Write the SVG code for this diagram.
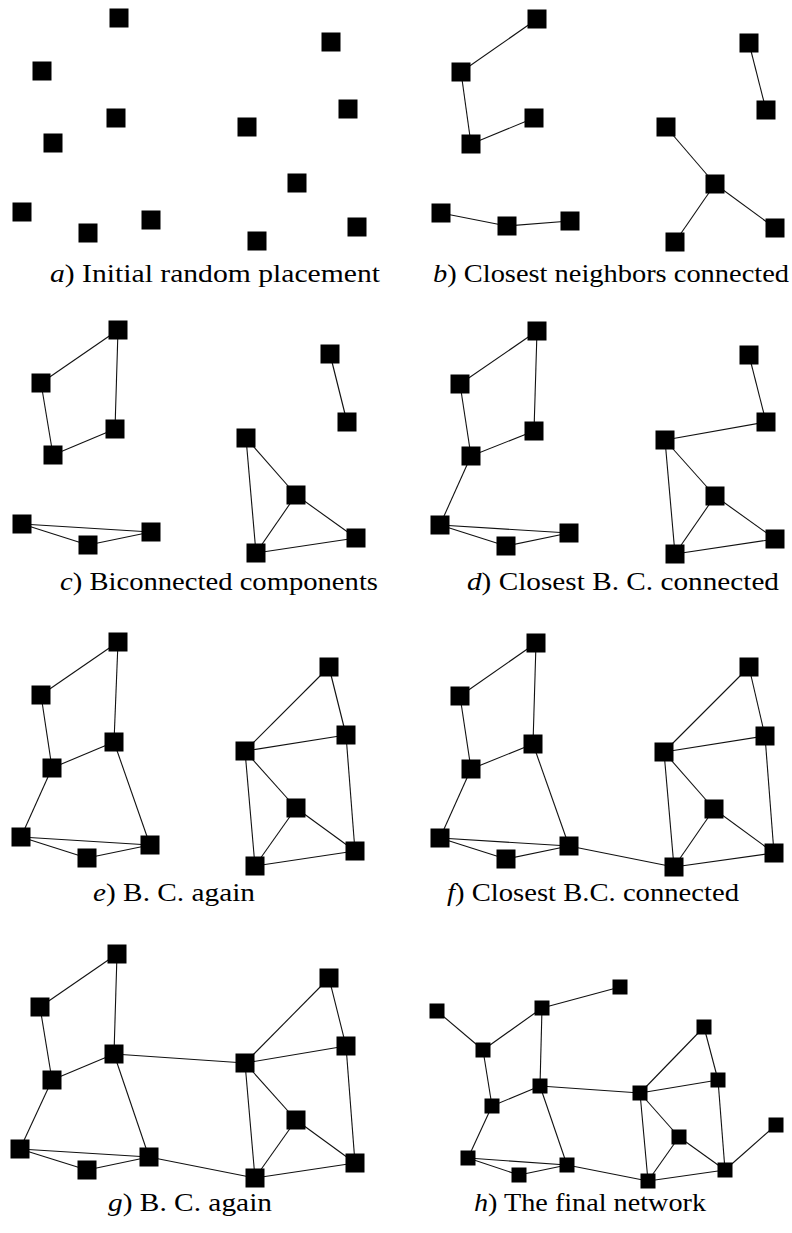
<svg xmlns="http://www.w3.org/2000/svg" width="792" height="1233" viewBox="0 0 792 1233">
  <style>
    .edge line { stroke: #111; stroke-width: 1.1; }
    .cap text { font-family: "Liberation Serif", "Times New Roman", serif; font-size: 26px; fill: #000; }
    .lbl { font-style: italic; }
  </style>
  <defs>
    <rect id="sq" x="-9.5" y="-9.5" width="19" height="19" fill="#000"/>
    <rect id="sqs" x="-7.5" y="-7.5" width="15" height="15" fill="#000"/>
  </defs>
  <rect width="792" height="1233" fill="#fff"/>

  <!-- connectors -->
  <g id="connectors" class="edge">
    <!-- b) -->
    <line x1="537" y1="19" x2="461" y2="72"/>
    <line x1="461" y1="72" x2="471" y2="144"/>
    <line x1="471" y1="144" x2="534" y2="118"/>
    <line x1="749" y1="43" x2="766" y2="110"/>
    <line x1="666" y1="127" x2="715" y2="184"/>
    <line x1="715" y1="184" x2="675" y2="242"/>
    <line x1="715" y1="184" x2="775" y2="228"/>
    <line x1="441" y1="213" x2="507" y2="226"/>
    <line x1="507" y1="226" x2="570" y2="221"/>
    <!-- c) -->
    <line x1="118" y1="330" x2="41" y2="383"/>
    <line x1="118" y1="330" x2="115" y2="429"/>
    <line x1="41" y1="383" x2="53" y2="455"/>
    <line x1="53" y1="455" x2="115" y2="429"/>
    <line x1="330" y1="354" x2="347" y2="422"/>
    <line x1="246" y1="438" x2="296" y2="495"/>
    <line x1="246" y1="438" x2="256" y2="553"/>
    <line x1="296" y1="495" x2="256" y2="553"/>
    <line x1="296" y1="495" x2="356" y2="538"/>
    <line x1="256" y1="553" x2="356" y2="538"/>
    <line x1="22" y1="524" x2="151" y2="532"/>
    <line x1="22" y1="524" x2="88" y2="545"/>
    <line x1="88" y1="545" x2="151" y2="532"/>
    <!-- d) -->
    <line x1="537" y1="331" x2="460" y2="384"/>
    <line x1="537" y1="331" x2="534" y2="431"/>
    <line x1="460" y1="384" x2="471" y2="456"/>
    <line x1="471" y1="456" x2="534" y2="431"/>
    <line x1="471" y1="456" x2="440" y2="525"/>
    <line x1="749" y1="355" x2="766" y2="422"/>
    <line x1="766" y1="422" x2="665" y2="440"/>
    <line x1="665" y1="440" x2="715" y2="496"/>
    <line x1="665" y1="440" x2="675" y2="554"/>
    <line x1="715" y1="496" x2="675" y2="554"/>
    <line x1="715" y1="496" x2="775" y2="539"/>
    <line x1="675" y1="554" x2="775" y2="539"/>
    <line x1="440" y1="525" x2="569" y2="533"/>
    <line x1="440" y1="525" x2="506" y2="546"/>
    <line x1="506" y1="546" x2="569" y2="533"/>
    <!-- e) -->
    <line x1="118" y1="642" x2="41" y2="695"/>
    <line x1="118" y1="642" x2="114" y2="742"/>
    <line x1="41" y1="695" x2="52" y2="768"/>
    <line x1="52" y1="768" x2="114" y2="742"/>
    <line x1="52" y1="768" x2="21" y2="837"/>
    <line x1="114" y1="742" x2="150" y2="845"/>
    <line x1="21" y1="837" x2="150" y2="845"/>
    <line x1="21" y1="837" x2="87" y2="858"/>
    <line x1="87" y1="858" x2="150" y2="845"/>
    <line x1="329" y1="667" x2="245" y2="751"/>
    <line x1="329" y1="667" x2="346" y2="735"/>
    <line x1="245" y1="751" x2="346" y2="735"/>
    <line x1="245" y1="751" x2="296" y2="808"/>
    <line x1="245" y1="751" x2="255" y2="866"/>
    <line x1="296" y1="808" x2="255" y2="866"/>
    <line x1="296" y1="808" x2="355" y2="851"/>
    <line x1="346" y1="735" x2="355" y2="851"/>
    <line x1="255" y1="866" x2="355" y2="851"/>
    <!-- f) -->
    <line x1="536" y1="643" x2="460" y2="696"/>
    <line x1="536" y1="643" x2="533" y2="744"/>
    <line x1="460" y1="696" x2="471" y2="769"/>
    <line x1="471" y1="769" x2="533" y2="744"/>
    <line x1="471" y1="769" x2="440" y2="838"/>
    <line x1="533" y1="744" x2="569" y2="846"/>
    <line x1="440" y1="838" x2="569" y2="846"/>
    <line x1="440" y1="838" x2="506" y2="859"/>
    <line x1="506" y1="859" x2="569" y2="846"/>
    <line x1="569" y1="846" x2="674" y2="867"/>
    <line x1="749" y1="667" x2="664" y2="752"/>
    <line x1="749" y1="667" x2="765" y2="736"/>
    <line x1="664" y1="752" x2="765" y2="736"/>
    <line x1="664" y1="752" x2="714" y2="809"/>
    <line x1="664" y1="752" x2="674" y2="867"/>
    <line x1="714" y1="809" x2="674" y2="867"/>
    <line x1="714" y1="809" x2="774" y2="853"/>
    <line x1="765" y1="736" x2="774" y2="853"/>
    <line x1="674" y1="867" x2="774" y2="853"/>
    <!-- g) -->
    <line x1="117" y1="954" x2="40" y2="1007"/>
    <line x1="117" y1="954" x2="114" y2="1054"/>
    <line x1="40" y1="1007" x2="52" y2="1080"/>
    <line x1="52" y1="1080" x2="114" y2="1054"/>
    <line x1="52" y1="1080" x2="20" y2="1149"/>
    <line x1="114" y1="1054" x2="149" y2="1157"/>
    <line x1="114" y1="1054" x2="245" y2="1063"/>
    <line x1="20" y1="1149" x2="149" y2="1157"/>
    <line x1="20" y1="1149" x2="87" y2="1170"/>
    <line x1="87" y1="1170" x2="149" y2="1157"/>
    <line x1="149" y1="1157" x2="255" y2="1178"/>
    <line x1="329" y1="978" x2="245" y2="1063"/>
    <line x1="329" y1="978" x2="346" y2="1046"/>
    <line x1="245" y1="1063" x2="346" y2="1046"/>
    <line x1="245" y1="1063" x2="296" y2="1120"/>
    <line x1="245" y1="1063" x2="255" y2="1178"/>
    <line x1="296" y1="1120" x2="255" y2="1178"/>
    <line x1="296" y1="1120" x2="355" y2="1163"/>
    <line x1="346" y1="1046" x2="355" y2="1163"/>
    <line x1="255" y1="1178" x2="355" y2="1163"/>
    <!-- h) -->
    <line x1="437" y1="1011" x2="483" y2="1050"/>
    <line x1="483" y1="1050" x2="542" y2="1008"/>
    <line x1="542" y1="1008" x2="620" y2="987"/>
    <line x1="542" y1="1008" x2="540" y2="1086"/>
    <line x1="483" y1="1050" x2="492" y2="1106"/>
    <line x1="492" y1="1106" x2="540" y2="1086"/>
    <line x1="492" y1="1106" x2="468" y2="1158"/>
    <line x1="540" y1="1086" x2="567" y2="1165"/>
    <line x1="468" y1="1158" x2="567" y2="1165"/>
    <line x1="468" y1="1158" x2="519" y2="1175"/>
    <line x1="519" y1="1175" x2="567" y2="1165"/>
    <line x1="567" y1="1165" x2="648" y2="1181"/>
    <line x1="540" y1="1086" x2="640" y2="1093"/>
    <line x1="640" y1="1093" x2="704" y2="1027"/>
    <line x1="704" y1="1027" x2="718" y2="1080"/>
    <line x1="640" y1="1093" x2="718" y2="1080"/>
    <line x1="640" y1="1093" x2="679" y2="1137"/>
    <line x1="640" y1="1093" x2="648" y2="1181"/>
    <line x1="679" y1="1137" x2="648" y2="1181"/>
    <line x1="679" y1="1137" x2="725" y2="1170"/>
    <line x1="718" y1="1080" x2="725" y2="1170"/>
    <line x1="648" y1="1181" x2="725" y2="1170"/>
    <line x1="725" y1="1170" x2="776" y2="1125"/>
  </g>

  <!-- a) initial random placement -->
  <g id="a1"><use href="#sq" x="119" y="18"/></g>
  <g id="a2"><use href="#sq" x="331" y="42"/></g>
  <g id="a3"><use href="#sq" x="42" y="71"/></g>
  <g id="a4"><use href="#sq" x="116" y="118"/></g>
  <g id="a5"><use href="#sq" x="348" y="109"/></g>
  <g id="a6"><use href="#sq" x="247" y="127"/></g>
  <g id="a7"><use href="#sq" x="53" y="143"/></g>
  <g id="a8"><use href="#sq" x="297" y="183"/></g>
  <g id="a9"><use href="#sq" x="22" y="212"/></g>
  <g id="a10"><use href="#sq" x="151" y="220"/></g>
  <g id="a11"><use href="#sq" x="88" y="233"/></g>
  <g id="a12"><use href="#sq" x="257" y="241"/></g>
  <g id="a13"><use href="#sq" x="357" y="227"/></g>

  <!-- b) closest neighbors -->
  <g id="b1"><use href="#sq" x="537" y="19"/></g>
  <g id="b2"><use href="#sq" x="461" y="72"/></g>
  <g id="b3"><use href="#sq" x="534" y="118"/></g>
  <g id="b4"><use href="#sq" x="471" y="144"/></g>
  <g id="b5"><use href="#sq" x="749" y="43"/></g>
  <g id="b6"><use href="#sq" x="766" y="110"/></g>
  <g id="b7"><use href="#sq" x="666" y="127"/></g>
  <g id="b8"><use href="#sq" x="715" y="184"/></g>
  <g id="b9"><use href="#sq" x="441" y="213"/></g>
  <g id="b10"><use href="#sq" x="507" y="226"/></g>
  <g id="b11"><use href="#sq" x="570" y="221"/></g>
  <g id="b12"><use href="#sq" x="675" y="242"/></g>
  <g id="b13"><use href="#sq" x="775" y="228"/></g>

  <!-- c) biconnected components -->
  <g id="c1"><use href="#sq" x="118" y="330"/></g>
  <g id="c2"><use href="#sq" x="41" y="383"/></g>
  <g id="c3"><use href="#sq" x="115" y="429"/></g>
  <g id="c4"><use href="#sq" x="53" y="455"/></g>
  <g id="c5"><use href="#sq" x="330" y="354"/></g>
  <g id="c6"><use href="#sq" x="347" y="422"/></g>
  <g id="c7"><use href="#sq" x="246" y="438"/></g>
  <g id="c8"><use href="#sq" x="296" y="495"/></g>
  <g id="c9"><use href="#sq" x="22" y="524"/></g>
  <g id="c10"><use href="#sq" x="151" y="532"/></g>
  <g id="c11"><use href="#sq" x="88" y="545"/></g>
  <g id="c12"><use href="#sq" x="256" y="553"/></g>
  <g id="c13"><use href="#sq" x="356" y="538"/></g>

  <!-- d) closest B. C. connected -->
  <g id="d1"><use href="#sq" x="537" y="331"/></g>
  <g id="d2"><use href="#sq" x="460" y="384"/></g>
  <g id="d3"><use href="#sq" x="534" y="431"/></g>
  <g id="d4"><use href="#sq" x="471" y="456"/></g>
  <g id="d5"><use href="#sq" x="749" y="355"/></g>
  <g id="d6"><use href="#sq" x="766" y="422"/></g>
  <g id="d7"><use href="#sq" x="665" y="440"/></g>
  <g id="d8"><use href="#sq" x="715" y="496"/></g>
  <g id="d9"><use href="#sq" x="440" y="525"/></g>
  <g id="d10"><use href="#sq" x="569" y="533"/></g>
  <g id="d11"><use href="#sq" x="506" y="546"/></g>
  <g id="d12"><use href="#sq" x="675" y="554"/></g>
  <g id="d13"><use href="#sq" x="775" y="539"/></g>

  <!-- e) B. C. again -->
  <g id="e1"><use href="#sq" x="118" y="642"/></g>
  <g id="e2"><use href="#sq" x="41" y="695"/></g>
  <g id="e3"><use href="#sq" x="114" y="742"/></g>
  <g id="e4"><use href="#sq" x="52" y="768"/></g>
  <g id="e5"><use href="#sq" x="329" y="667"/></g>
  <g id="e6"><use href="#sq" x="346" y="735"/></g>
  <g id="e7"><use href="#sq" x="245" y="751"/></g>
  <g id="e8"><use href="#sq" x="296" y="808"/></g>
  <g id="e9"><use href="#sq" x="21" y="837"/></g>
  <g id="e10"><use href="#sq" x="150" y="845"/></g>
  <g id="e11"><use href="#sq" x="87" y="858"/></g>
  <g id="e12"><use href="#sq" x="255" y="866"/></g>
  <g id="e13"><use href="#sq" x="355" y="851"/></g>

  <!-- f) closest B.C. connected -->
  <g id="f1"><use href="#sq" x="536" y="643"/></g>
  <g id="f2"><use href="#sq" x="460" y="696"/></g>
  <g id="f3"><use href="#sq" x="533" y="744"/></g>
  <g id="f4"><use href="#sq" x="471" y="769"/></g>
  <g id="f5"><use href="#sq" x="749" y="667"/></g>
  <g id="f6"><use href="#sq" x="765" y="736"/></g>
  <g id="f7"><use href="#sq" x="664" y="752"/></g>
  <g id="f8"><use href="#sq" x="714" y="809"/></g>
  <g id="f9"><use href="#sq" x="440" y="838"/></g>
  <g id="f10"><use href="#sq" x="569" y="846"/></g>
  <g id="f11"><use href="#sq" x="506" y="859"/></g>
  <g id="f12"><use href="#sq" x="674" y="867"/></g>
  <g id="f13"><use href="#sq" x="774" y="853"/></g>

  <!-- g) B. C. again -->
  <g id="g1"><use href="#sq" x="117" y="954"/></g>
  <g id="g2"><use href="#sq" x="40" y="1007"/></g>
  <g id="g3"><use href="#sq" x="114" y="1054"/></g>
  <g id="g4"><use href="#sq" x="52" y="1080"/></g>
  <g id="g5"><use href="#sq" x="329" y="978"/></g>
  <g id="g6"><use href="#sq" x="346" y="1046"/></g>
  <g id="g7"><use href="#sq" x="245" y="1063"/></g>
  <g id="g8"><use href="#sq" x="296" y="1120"/></g>
  <g id="g9"><use href="#sq" x="20" y="1149"/></g>
  <g id="g10"><use href="#sq" x="149" y="1157"/></g>
  <g id="g11"><use href="#sq" x="87" y="1170"/></g>
  <g id="g12"><use href="#sq" x="255" y="1178"/></g>
  <g id="g13"><use href="#sq" x="355" y="1163"/></g>

  <!-- h) the final network -->
  <g id="h1"><use href="#sqs" x="437" y="1011"/></g>
  <g id="h2"><use href="#sqs" x="620" y="987"/></g>
  <g id="h3"><use href="#sqs" x="542" y="1008"/></g>
  <g id="h4"><use href="#sqs" x="483" y="1050"/></g>
  <g id="h5"><use href="#sqs" x="704" y="1027"/></g>
  <g id="h6"><use href="#sqs" x="718" y="1080"/></g>
  <g id="h7"><use href="#sqs" x="540" y="1086"/></g>
  <g id="h8"><use href="#sqs" x="492" y="1106"/></g>
  <g id="h9"><use href="#sqs" x="640" y="1093"/></g>
  <g id="h10"><use href="#sqs" x="679" y="1137"/></g>
  <g id="h11"><use href="#sqs" x="776" y="1125"/></g>
  <g id="h12"><use href="#sqs" x="468" y="1158"/></g>
  <g id="h13"><use href="#sqs" x="567" y="1165"/></g>
  <g id="h14"><use href="#sqs" x="519" y="1175"/></g>
  <g id="h15"><use href="#sqs" x="648" y="1181"/></g>
  <g id="h16"><use href="#sqs" x="725" y="1170"/></g>

  <!-- captions -->
  <g class="cap">
    <text x="50" y="282" textLength="330" lengthAdjust="spacingAndGlyphs"><tspan class="lbl">a</tspan>) Initial random placement</text>
    <text x="433" y="282" textLength="356" lengthAdjust="spacingAndGlyphs"><tspan class="lbl">b</tspan>) Closest neighbors connected</text>
    <text x="60" y="590" textLength="318" lengthAdjust="spacingAndGlyphs"><tspan class="lbl">c</tspan>) Biconnected components</text>
    <text x="467" y="590" textLength="312" lengthAdjust="spacingAndGlyphs"><tspan class="lbl">d</tspan>) Closest B. C. connected</text>
    <text x="93" y="901" textLength="162" lengthAdjust="spacingAndGlyphs"><tspan class="lbl">e</tspan>) B. C. again</text>
    <text x="447" y="901" textLength="292" lengthAdjust="spacingAndGlyphs"><tspan class="lbl">f</tspan>) Closest B.C. connected</text>
    <text x="108" y="1211" textLength="164" lengthAdjust="spacingAndGlyphs"><tspan class="lbl">g</tspan>) B. C. again</text>
    <text x="474" y="1211" textLength="232" lengthAdjust="spacingAndGlyphs"><tspan class="lbl">h</tspan>) The final network</text>
  </g>
</svg>
